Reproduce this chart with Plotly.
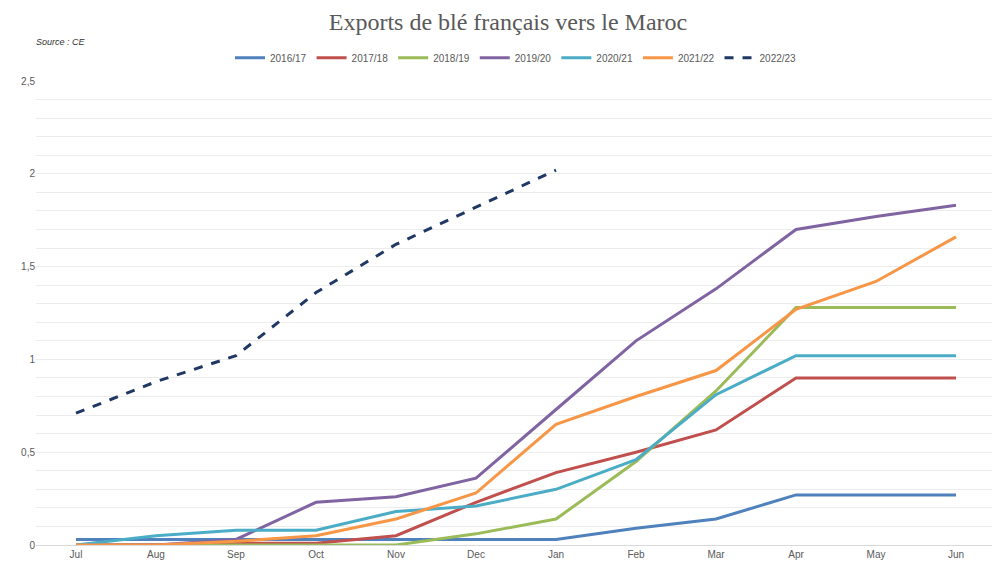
import plotly.graph_objects as go

months = ["Jul", "Aug", "Sep", "Oct", "Nov", "Dec", "Jan", "Feb", "Mar", "Apr", "May", "Jun"]

s1617 = [0.03, 0.03, 0.03, 0.03, 0.03, 0.03, 0.03, 0.09, 0.14, 0.27, 0.27, 0.27]
s1718 = [0, 0, 0.01, 0.01, 0.05, 0.23, 0.39, 0.50, 0.62, 0.90, 0.90, 0.90]
s1819 = [0, 0, 0, 0, 0, 0.06, 0.14, 0.45, 0.83, 1.28, 1.28, 1.28]
s1920 = [0, 0, 0.03, 0.23, 0.26, 0.36, 0.73, 1.10, 1.38, 1.70, 1.77, 1.83]
s2021 = [0, 0.05, 0.08, 0.08, 0.18, 0.21, 0.30, 0.46, 0.81, 1.02, 1.02, 1.02]
s2122 = [0, 0, 0.02, 0.05, 0.14, 0.28, 0.65, 0.80, 0.94, 1.27, 1.42, 1.66]
s2223 = [0.71, 0.88, 1.02, 1.36, 1.62, 1.82, 2.02]

series = [
    ("2016/17", s1617, "#4f81bd", "solid"),
    ("2017/18", s1718, "#c0504d", "solid"),
    ("2018/19", s1819, "#9bbb59", "solid"),
    ("2019/20", s1920, "#8064a2", "solid"),
    ("2020/21", s2021, "#4bacc6", "solid"),
    ("2021/22", s2122, "#f79646", "solid"),
    ("2022/23", s2223, "#1f3864", "dash"),
]

fig = go.Figure()
for name, vals, col, dash in series:
    fig.add_trace(go.Scatter(x=months[:len(vals)], y=vals, name=name, mode="lines",
                             line=dict(color=col, width=3, dash=dash)))

fig.update_layout(
    width=1000, height=562,
    paper_bgcolor="white", plot_bgcolor="white",
    margin=dict(l=28, r=12, t=73, b=25),
    title=dict(text="Exports de blé français vers le Maroc", x=0.5, y=0.99, xanchor="center",
               yanchor="top", font=dict(family="Liberation Serif", size=24, color="#595959")),
    legend=dict(orientation="h", x=0.5, xanchor="center", y=1.05, yanchor="middle",
                font=dict(family="Liberation Sans", size=10, color="#595959")),
    font=dict(family="Liberation Sans", size=10, color="#595959"),
    separators=", ",
    annotations=[dict(text="<i>Source : CE</i>", x=-0.002, y=1.1, xref="paper", yref="paper",
                      xanchor="left", showarrow=False, font=dict(size=9, color="#333"))],
)
fig.update_xaxes(showgrid=False, showline=True, linecolor="#d9d9d9", ticks="",
                 range=[-0.5, 11.5], automargin=False)
fig.update_yaxes(range=[0, 2.5], gridcolor="#ececec", zeroline=False, automargin=False,
                 tickvals=[0, 0.5, 1, 1.5, 2, 2.5], ticktext=["0", "0,5", "1", "1,5", "2", "2,5"],
                 minor=dict(dtick=0.1, showgrid=True, gridcolor="#ececec"))

fig.write_html("out.html")
